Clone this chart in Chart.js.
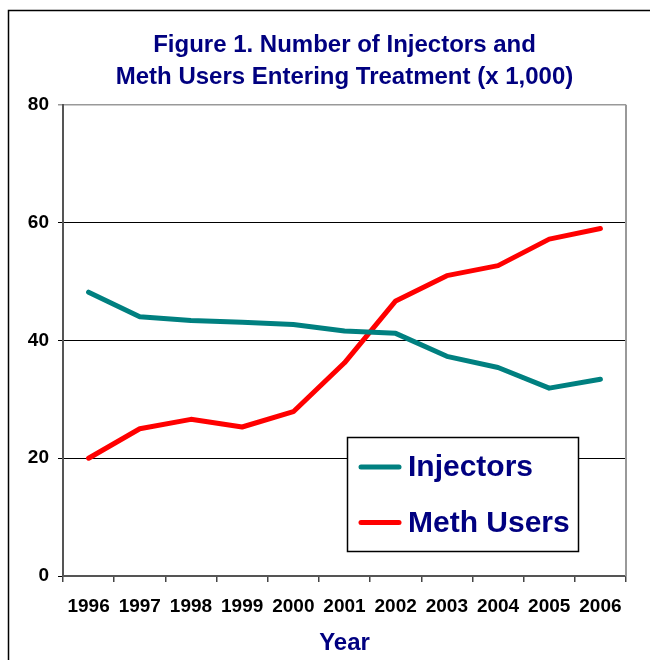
<!DOCTYPE html>
<html>
<head>
<meta charset="utf-8">
<script src="https://cdn.jsdelivr.net/npm/chart.js@4"></script>
<style>
  body { margin: 0; background: #fff; }
  canvas { display: block; }
</style>
</head>
<body>
<canvas id="chart" width="650" height="660"></canvas>
<script>
const years = ['1996', '1997', '1998', '1999', '2000', '2001', '2002', '2003', '2004', '2005', '2006'];
const injectors = [48.2, 44.0, 43.4, 43.1, 42.7, 41.6, 41.2, 37.3, 35.4, 31.9, 33.4];
const methUsers = [20.0, 25.0, 26.6, 25.3, 27.9, 36.2, 46.7, 51.0, 52.7, 57.2, 59.0];
const yTicks = [0, 20, 40, 60, 80];

const font = "'Liberation Sans', Arial, sans-serif";
const navy = '#000080';

// outer frame + right border of plot area
const framePlugin = {
  id: 'frame',
  beforeDraw(chart) {
    const c = chart.ctx;
    c.save();
    c.strokeStyle = '#000';
    c.lineWidth = 1.5;
    c.beginPath();
    c.moveTo(8.5, 660);
    c.lineTo(8.5, 10.5);
    c.lineTo(650, 10.5);
    c.stroke();
    c.restore();
  },
  afterDraw(chart) {
    const a = chart.chartArea;
    const c = chart.ctx;
    c.save();
    c.strokeStyle = '#999';
    c.lineWidth = 2;
    c.beginPath();
    c.moveTo(a.right, a.top);
    c.lineTo(a.right, a.bottom);
    c.stroke();
    c.restore();
  }
};

// boxed legend inside the plot
const legendBox = {
  id: 'legendBox',
  afterDatasetsDraw(chart) {
    const c = chart.ctx;
    c.save();
    c.fillStyle = '#fff';
    c.fillRect(347, 437, 231, 114);
    c.strokeStyle = '#000';
    c.lineWidth = 1.5;
    c.strokeRect(347.5, 437.5, 231, 114);
    chart.data.datasets.forEach((ds, i) => {
      const y = 467 + i * 55.5;
      c.strokeStyle = ds.borderColor;
      c.lineWidth = 5;
      c.lineCap = 'round';
      c.beginPath();
      c.moveTo(361, y);
      c.lineTo(399, y);
      c.stroke();
      c.fillStyle = navy;
      c.font = 'bold 30px ' + font;
      c.textBaseline = 'middle';
      c.fillText(ds.label, 408, y + 1);
    });
    c.restore();
  }
};

new Chart(document.getElementById('chart'), {
  type: 'line',
  data: {
    labels: years,
    datasets: [{
      label: 'Injectors',
      data: injectors,
      borderColor: '#008080',
      borderWidth: 5,
      borderCapStyle: 'round',
      borderJoinStyle: 'round',
      pointRadius: 0,
      tension: 0
    }, {
      label: 'Meth Users',
      data: methUsers,
      borderColor: '#ff0000',
      borderWidth: 5,
      borderCapStyle: 'round',
      borderJoinStyle: 'round',
      pointRadius: 0,
      tension: 0
    }]
  },
  plugins: [framePlugin, legendBox],
  options: {
    responsive: false,
    devicePixelRatio: 1,
    animation: false,
    layout: { padding: { left: 0, right: 24, top: 0, bottom: 0 } },
    plugins: {
      legend: { display: false },
      tooltip: { enabled: false },
      title: {
        display: true,
        fullSize: false,
        text: ['Figure 1. Number of Injectors and', 'Meth Users Entering Treatment (x 1,000)'],
        color: navy,
        font: { family: font, size: 24, weight: 'bold', lineHeight: 1.33 },
        padding: { top: 29, bottom: 12 }
      }
    },
    scales: {
      x: {
        offset: true,
        grid: {
          offset: true,
          drawOnChartArea: false,
          drawTicks: true,
          tickLength: 6,
          color: '#444',
          lineWidth: 1.5
        },
        border: { color: '#555', width: 2 },
        ticks: {
          color: '#000',
          padding: 13,
          maxRotation: 0,
          autoSkip: false,
          font: { family: font, size: 19, weight: 'bold' }
        },
        title: {
          display: true,
          text: 'Year',
          color: navy,
          font: { family: font, size: 24, weight: 'bold' },
          padding: { top: 0, bottom: 2 }
        },
        afterFit(s) { s.height = 84; }
      },
      y: {
        min: 0,
        max: 80,
        afterBuildTicks(s) { s.ticks = yTicks.map(v => ({ value: v })); },
        grid: {
          color: ctx => ctx.tick && ctx.tick.value === 80 ? '#999' : '#000',
          lineWidth: ctx => ctx.tick && ctx.tick.value === 80 ? 1.5 : 1,
          tickLength: 5
        },
        border: { color: '#555', width: 2 },
        ticks: {
          color: '#000',
          padding: 9,
          font: { family: font, size: 19, weight: 'bold' }
        },
        afterFit(s) { s.width = 63; }
      }
    }
  }
});
</script>
</body>
</html>
